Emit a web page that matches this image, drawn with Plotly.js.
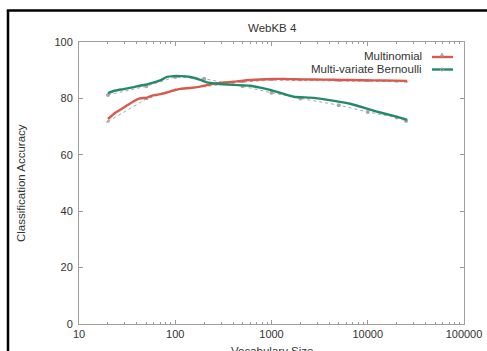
<!DOCTYPE html>
<html>
<head>
<meta charset="utf-8">
<script src="https://cdn.plot.ly/plotly-3.0.1.min.js"></script>
<style>html,body{margin:0;padding:0;background:#fff;}#chart{width:487px;height:351px;}</style>
</head>
<body>
<div id="chart"></div>
<script>
// Smoothed curves
const vocabSizes = [20, 24, 29, 37, 43, 51, 59, 70, 82, 96, 113, 143, 182, 213, 272, 400, 600, 900, 1050, 1340, 1700, 2750, 4500, 6700, 11600, 19000, 25700];
const multinomial = [72.7, 75.0, 76.7, 79.0, 80.0, 80.3, 81.1, 81.5, 82.1, 82.8, 83.4, 83.7, 84.2, 84.7, 85.4, 85.9, 86.5, 86.8, 86.9, 86.9, 86.8, 86.7, 86.6, 86.5, 86.4, 86.3, 86.2];
const bernoulli = [81.9, 82.8, 83.3, 84.0, 84.5, 85.0, 85.6, 86.4, 87.6, 87.9, 87.9, 87.6, 86.6, 85.7, 85.2, 84.8, 84.5, 83.3, 82.7, 81.6, 80.6, 80.2, 79.1, 78.0, 75.6, 73.7, 72.4];
// Raw measurement points (gray dotted)
const rawSizes = [20, 50, 100, 200, 500, 1000, 2000, 5000, 10000, 20000, 25000];
const multinomialRaw = [71.8, 79.8, 83.0, 84.3, 85.8, 86.5, 86.4, 86.3, 86.2, 86.0, 85.9];
const bernoulliRaw = [81.2, 84.3, 87.6, 87.0, 84.3, 82.0, 80.0, 77.6, 75.2, 73.2, 72.0];
// Axis ticks
const xTickVals = [10, 100, 1000, 10000, 100000];
const xTickText = ["10", "100", "1000", "10000", "100000"];
const xMinorVals = [20, 30, 40, 50, 60, 70, 80, 90, 200, 300, 400, 500, 600, 700, 800, 900,
  2000, 3000, 4000, 5000, 6000, 7000, 8000, 9000, 20000, 30000, 40000, 50000, 60000, 70000, 80000, 90000];
const yTickVals = [0, 20, 40, 60, 80, 100];
const seriesNames = ["Multinomial", "Multi-variate Bernoulli"];

const RED = "#d9594c", GREEN = "#238a68", GRAY = "#a8a8a8";
const FONT = "Liberation Sans, Arial, sans-serif";
const TXT = "#333";

const traces = [
  {x: rawSizes, y: multinomialRaw, mode: "lines+markers", line: {color: GRAY, width: 1, dash: "dot"},
   marker: {symbol: "triangle-up", size: 4, color: GRAY}, hoverinfo: "skip", showlegend: false},
  {x: rawSizes, y: bernoulliRaw, mode: "lines+markers", line: {color: GRAY, width: 1, dash: "dot"},
   marker: {symbol: "circle", size: 4, color: GRAY}, hoverinfo: "skip", showlegend: false},
  {x: vocabSizes, y: multinomial, name: seriesNames[0], mode: "lines",
   line: {color: RED, width: 2.4, shape: "spline", smoothing: 0.5}, showlegend: false},
  {x: vocabSizes, y: bernoulli, name: seriesNames[1], mode: "lines",
   line: {color: GREEN, width: 2.4, shape: "spline", smoothing: 0.5}, showlegend: false}
];

const L = 79, R = 464, T = 42, B = 324, W = 487, H = 351;
const px = v => (v - L) / (R - L);
const py = v => (B - v) / (B - T);

const layout = {
  width: W, height: H,
  margin: {l: L, r: W - R, t: T, b: H - B, pad: 0},
  paper_bgcolor: "#fff", plot_bgcolor: "#fff",
  font: {family: FONT, size: 11, color: TXT},
  showlegend: false,
  xaxis: {type: "log", range: [1, 5], tickvals: xTickVals, ticktext: xTickText,
    ticks: "inside", ticklen: 4, tickcolor: "#999", showline: true, linecolor: "#a0a0a0", linewidth: 1,
    mirror: "ticks", showgrid: false, zeroline: false, tickfont: {size: 11, family: FONT, color: TXT},
    minor: {tickvals: xMinorVals, ticks: "inside", ticklen: 2, tickcolor: "#999", showgrid: false}},
  yaxis: {range: [0, 100], tickvals: yTickVals, ticks: "inside", ticklen: 4, tickcolor: "#999",
    showline: true, linecolor: "#a0a0a0", linewidth: 1, mirror: "ticks", showgrid: false, zeroline: false,
    ticklabelstandoff: 3, tickfont: {size: 11, family: FONT, color: TXT}},
  annotations: [
    {text: "WebKB 4", xref: "paper", yref: "paper", x: px(272), y: py(28), xanchor: "center", yanchor: "middle",
     showarrow: false, font: {size: 11.5, family: FONT, color: TXT}},
    {text: "Classification Accuracy", xref: "paper", yref: "paper", x: px(21), y: py(183), textangle: -90,
     xanchor: "center", yanchor: "middle", showarrow: false, font: {size: 11.5, family: FONT, color: TXT}},
    {text: "Vocabulary Size", xref: "paper", yref: "paper", x: px(272), y: py(343), xanchor: "center", yanchor: "top",
     showarrow: false, font: {size: 11.5, family: FONT, color: TXT}},
    {text: seriesNames[0], xref: "paper", yref: "paper", x: px(424), y: py(56), xanchor: "right", yanchor: "middle",
     showarrow: false, font: {size: 11.5, family: FONT, color: TXT}},
    {text: seriesNames[1], xref: "paper", yref: "paper", x: px(424), y: py(69), xanchor: "right", yanchor: "middle",
     showarrow: false, font: {size: 11.5, family: FONT, color: TXT}}
  ],
  shapes: [
    {type: "line", xref: "paper", yref: "paper", x0: px(8), x1: px(8), y0: py(360), y1: py(10.5),
     line: {color: "#000", width: 2.5}, layer: "above"},
    {type: "line", xref: "paper", yref: "paper", x0: px(6.8), x1: px(495), y0: py(10.5), y1: py(10.5),
     line: {color: "#000", width: 2.5}, layer: "above"},
    {type: "line", xref: "paper", yref: "paper", x0: px(432), x1: px(453), y0: py(57), y1: py(57),
     line: {color: RED, width: 2.4}},
    {type: "line", xref: "paper", yref: "paper", x0: px(432), x1: px(453), y0: py(69.5), y1: py(69.5),
     line: {color: GREEN, width: 2.4}},
    {type: "path", xref: "paper", yref: "paper",
     path: `M ${px(440.5)} ${py(56)} L ${px(443.5)} ${py(56)} L ${px(442)} ${py(53)} Z`,
     line: {color: GRAY, width: 1}, fillcolor: GRAY},
    {type: "circle", xref: "paper", yref: "paper", x0: px(440.5), x1: px(443.5), y0: py(71), y1: py(68),
     line: {color: GRAY, width: 1}, fillcolor: "rgba(0,0,0,0)"}
  ]
};

Plotly.newPlot("chart", traces, layout, {staticPlot: true, displayModeBar: false});
</script>
</body>
</html>
